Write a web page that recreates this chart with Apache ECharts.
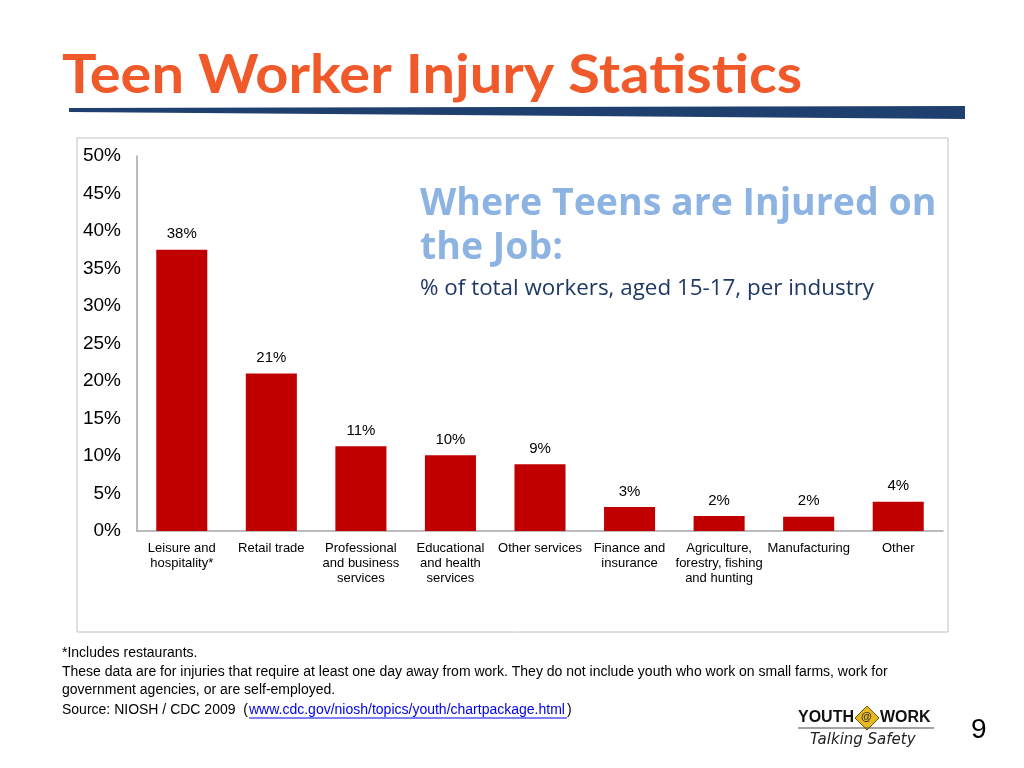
<!DOCTYPE html>
<html>
<head>
<meta charset="utf-8">
<script src="https://cdn.jsdelivr.net/npm/echarts@6/dist/echarts.min.js"></script>
<style>
  html, body { margin: 0; padding: 0; background: #fff; }
  #chart { width: 1024px; height: 768px; }
</style>
</head>
<body>
<div id="chart"></div>
<script>
  // industries (x axis)
  const categories = [
    'Leisure and\nhospitality*',
    'Retail trade',
    'Professional\nand business\nservices',
    'Educational\nand health\nservices',
    'Other services',
    'Finance and\ninsurance',
    'Agriculture,\nforestry, fishing\nand hunting',
    'Manufacturing',
    'Other'
  ];
  // bar heights (%)
  const injuryShare = [37.5, 21, 11.3, 10.1, 8.9, 3.2, 2.0, 1.9, 3.9];
  // printed labels above bars
  const barLabels = ['38%', '21%', '11%', '10%', '9%', '3%', '2%', '2%', '4%'];
  const yTicks = { min: 0, max: 50, step: 5 };

  const chart = echarts.init(document.getElementById('chart'));
  const font = '"Liberation Sans", Arial, sans-serif';

  let option = {
    animation: false,
    grid: {
      left: 137,
      right: 81,
      top: 156,
      bottom: 237,
      containLabel: false
    },
    xAxis: {
      type: 'category',
      data: categories,
      axisLine: { show: true, lineStyle: { color: '#a6a6a6', width: 1.5 } },
      axisTick: { show: false },
      axisLabel: {
        interval: 0,
        fontFamily: font,
        fontSize: 13,
        lineHeight: 15,
        color: '#000',
        margin: 10
      }
    },
    yAxis: {
      type: 'value',
      min: yTicks.min,
      max: yTicks.max,
      interval: yTicks.step,
      axisLine: { show: true, lineStyle: { color: '#a6a6a6', width: 1.5 } },
      axisTick: { show: false },
      splitLine: { show: false },
      axisLabel: {
        formatter: '{value}%',
        fontFamily: font,
        fontSize: 19,
        color: '#000',
        margin: 16,
        lineHeight: 26,
        verticalAlign: 'middle',
        padding: [5, 0, 0, 0]
      }
    },
    series: [{
      type: 'bar',
      data: injuryShare,
      barWidth: '57%',
      itemStyle: { color: '#C00000' },
      label: {
        show: true,
        position: 'top',
        distance: 8,
        fontFamily: font,
        fontSize: 15,
        color: '#000',
        formatter: (p) => barLabels[p.dataIndex]
      }
    }],
    graphic: [
      // slide title
      {
        type: 'text',
        x: 62,
        y: 49,
        scaleX: 1.09,
        style: {
          text: 'Teen Worker Injury Statistics',
          font: 'bold 53px Lato, sans-serif',
          fill: '#F05A2A',
          verticalAlign: 'top'
        }
      },
      // under-title rule
      {
        type: 'polygon',
        shape: { points: [[69, 108], [965, 106], [965, 119], [69, 112]] },
        style: { fill: '#1F3F6E' }
      },
      // chart frame
      {
        type: 'rect',
        shape: { x: 77, y: 138, width: 871, height: 494 },
        style: { fill: 'none', stroke: '#c0c0c0', lineWidth: 1 },
        z: -1
      },
      {
        type: 'text',
        left: 420,
        top: 182,
        style: {
          text: 'Where Teens are Injured on\nthe Job:',
          font: 'bold 37.5px "Open Sans", sans-serif',
          lineHeight: 44,
          fill: '#8DB3E2'
        }
      },
      {
        type: 'text',
        left: 420,
        top: 278,
        style: {
          text: '% of total workers, aged 15-17, per industry',
          font: '22.4px "Open Sans", sans-serif',
          fill: '#1F3864'
        }
      },
      // footnotes
      {
        type: 'text',
        left: 62,
        top: 646,
        style: {
          text: '*Includes restaurants.',
          font: '14px ' + font,
          fill: '#000'
        }
      },
      {
        type: 'text',
        left: 62,
        top: 663,
        style: {
          text: 'These data are for injuries that require at least one day away from work. They do not include youth who work on small farms, work for\ngovernment agencies, or are self-employed.',
          font: '14px ' + font,
          lineHeight: 18,
          fill: '#000'
        }
      },
      {
        type: 'text',
        left: 62,
        top: 703,
        style: {
          text: 'Source: NIOSH / CDC 2009  (',
          font: '14px ' + font,
          fill: '#000'
        }
      },
      {
        type: 'text',
        left: 249,
        top: 703,
        style: {
          text: 'www.cdc.gov/niosh/topics/youth/chartpackage.html',
          font: '14px ' + font,
          fill: '#0000EE'
        }
      },
      {
        type: 'line',
        shape: { x1: 249, y1: 718, x2: 567, y2: 718 },
        style: { stroke: '#0000EE', lineWidth: 1 }
      },
      {
        type: 'text',
        left: 567,
        top: 703,
        style: {
          text: ')',
          font: '14px ' + font,
          fill: '#000'
        }
      },
      // logo
      {
        type: 'text',
        left: 798,
        top: 710,
        style: {
          text: 'YOUTH',
          font: 'bold 16px ' + font,
          fill: '#111'
        }
      },
      {
        type: 'polygon',
        shape: { points: [[867, 706], [879, 718], [867, 730], [855, 718]] },
        style: { fill: '#E8B820', stroke: '#6b5200', lineWidth: 1 }
      },
      {
        type: 'text',
        left: 861,
        top: 711,
        style: {
          text: '@',
          font: 'bold 11px ' + font,
          fill: '#333'
        }
      },
      {
        type: 'text',
        left: 880,
        top: 710,
        style: {
          text: 'WORK',
          font: 'bold 16px ' + font,
          fill: '#111'
        }
      },
      {
        type: 'line',
        shape: { x1: 798, y1: 728, x2: 934, y2: 728 },
        style: { stroke: '#444', lineWidth: 1 }
      },
      {
        type: 'text',
        left: 810,
        top: 733,
        style: {
          text: 'Talking Safety',
          font: 'italic 15px "DejaVu Sans", sans-serif',
          fill: '#222'
        }
      },
      {
        type: 'text',
        left: 971,
        top: 716,
        style: {
          text: '9',
          font: '28px "Liberation Sans", Arial, sans-serif',
          fill: '#000'
        }
      }
    ]
  };
  chart.setOption(option);
</script>
</body>
</html>
